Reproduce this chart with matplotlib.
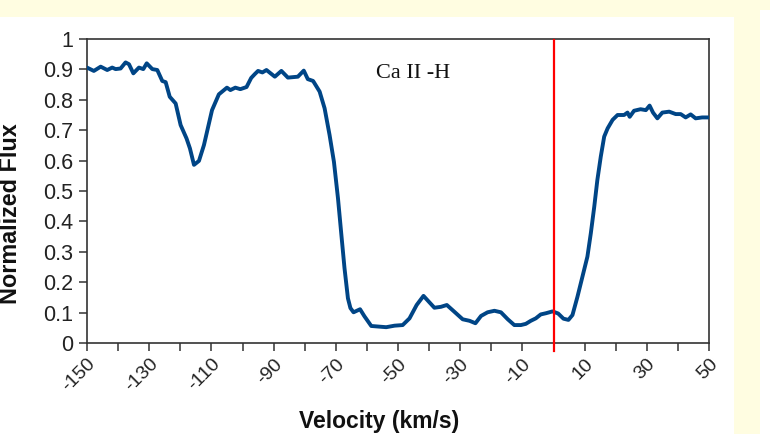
"""
Ca II H line profile: normalized flux against velocity, with rest-velocity marker.
"""
import matplotlib
matplotlib.use("Agg")
import matplotlib.pyplot as plt
from matplotlib.patches import Rectangle

# ── data ──────────────────────────────────────────────────────────────────────
velocity = [
    -150.0, -147.8, -145.6, -143.5, -141.9, -140.8, -139.2, -137.6, -136.5, -135.1,
    -133.3, -131.9, -130.8, -129.0, -127.4, -125.8, -124.7, -123.4, -121.5, -119.9,
    -118.0, -116.9, -115.6, -114.0, -112.4, -109.8, -107.6, -105.0, -103.9, -102.3,
    -100.7, -98.7, -97.2, -96.0, -95.0, -93.6, -92.3, -89.6, -87.5, -85.4,
    -82.2, -80.3, -79.0, -77.3, -75.2, -73.6, -72.0, -70.6, -69.3, -68.2,
    -67.2, -66.1, -65.3, -64.3, -62.2, -60.8, -58.6, -53.8, -51.1, -48.5,
    -46.3, -44.0, -41.8, -40.1, -38.3, -36.2, -34.3, -31.9, -29.2, -27.0,
    -25.1, -23.3, -21.2, -19.0, -16.9, -14.7, -12.6, -10.5, -8.9, -7.3,
    -5.7, -4.1, -2.4, -0.3, 1.5, 3.2, 4.8, 6.1, 7.7, 9.3,
    10.9, 12.0, 13.1, 14.1, 15.2, 16.3, 17.4, 19.0, 20.6, 22.7,
    23.8, 24.5, 25.9, 28.0, 29.7, 30.9, 32.0, 33.4, 35.0, 37.2,
    39.3, 40.9, 42.5, 44.1, 45.7, 47.8, 50.0,
]
flux = [
    0.906, 0.895, 0.909, 0.898, 0.906, 0.901, 0.903, 0.923, 0.917, 0.887,
    0.906, 0.901, 0.920, 0.901, 0.898, 0.862, 0.858, 0.810, 0.788, 0.717,
    0.673, 0.640, 0.586, 0.599, 0.651, 0.766, 0.818, 0.840, 0.832, 0.840,
    0.835, 0.842, 0.872, 0.885, 0.895, 0.890, 0.898, 0.876, 0.895, 0.873,
    0.876, 0.896, 0.868, 0.862, 0.827, 0.772, 0.684, 0.596, 0.476, 0.355,
    0.246, 0.147, 0.115, 0.101, 0.111, 0.088, 0.056, 0.052, 0.057, 0.059,
    0.081, 0.125, 0.155, 0.136, 0.116, 0.119, 0.125, 0.103, 0.078, 0.073,
    0.065, 0.089, 0.101, 0.106, 0.101, 0.078, 0.059, 0.059, 0.063, 0.073,
    0.081, 0.094, 0.098, 0.104, 0.097, 0.080, 0.076, 0.092, 0.152, 0.218,
    0.284, 0.361, 0.448, 0.536, 0.613, 0.679, 0.706, 0.734, 0.750, 0.750,
    0.758, 0.744, 0.764, 0.769, 0.766, 0.781, 0.758, 0.739, 0.758, 0.761,
    0.753, 0.753, 0.742, 0.752, 0.739, 0.742, 0.742,
]
rest_velocity = 0
line_label = "Ca II -H"

x_ticks = list(range(-150, 51, 10))
x_tick_labels = [str(v) if (v + 150) % 20 == 0 else "" for v in x_ticks]
y_ticks = [0, 0.1, 0.2, 0.3, 0.4, 0.5, 0.6, 0.7, 0.8, 0.9, 1]
y_tick_labels = ["0", "0.1", "0.2", "0.3", "0.4", "0.5", "0.6", "0.7", "0.8", "0.9", "1"]

LINE_COLOR = "#004586"
CREAM = "#FFFDE1"
AXIS_COLOR = "#333333"

plt.rcParams["font.family"] = ["Liberation Sans", "DejaVu Sans"]

# ── figure + page background ─────────────────────────────────────────────────
W, H = 770, 434
fig = plt.figure(figsize=(W / 100, H / 100), dpi=100, facecolor="white")
for (x0, y0, x1, y1) in [(0, 0, 760, 17), (734, 0, 760, H), (760, 0, W, 10)]:
    fig.patches.append(Rectangle((x0 / W, 1 - y1 / H), (x1 - x0) / W, (y1 - y0) / H,
                                 transform=fig.transFigure, facecolor=CREAM,
                                 edgecolor="none", zorder=0))

ax = fig.add_axes([87 / W, 1 - 343 / H, 622 / W, 304 / H])

# ── plot ─────────────────────────────────────────────────────────────────────
ax.plot(velocity, flux, color=LINE_COLOR, linewidth=2.8, solid_joinstyle="round",
        solid_capstyle="round", zorder=3)
ax.axvline(rest_velocity, ymin=-0.025, ymax=0.996, color="#FF0000", linewidth=1.6,
           clip_on=False, zorder=4)
ax.text(-57, 0.885, line_label, family=["Liberation Serif", "DejaVu Serif"],
        fontsize=16, color="#111111", va="center", ha="left")

ax.set_xlim(-150, 50)
ax.set_ylim(0, 1)
ax.set_xticks(x_ticks)
ax.set_xticklabels(x_tick_labels, rotation=45, ha="right", va="top",
                   rotation_mode="anchor", fontsize=14, color="#222222")
ax.set_yticks(y_ticks)
ax.set_yticklabels(y_tick_labels, fontsize=15.5, color="#222222")
ax.tick_params(axis="both", direction="out", length=6, width=1.1, color=AXIS_COLOR)
ax.tick_params(axis="x", pad=3)
ax.tick_params(axis="y", pad=4)
for sp in ax.spines.values():
    sp.set_color(AXIS_COLOR)
    sp.set_linewidth(1.2)

ax.set_xlabel("Velocity (km/s)", fontsize=16.5, fontweight="bold", color="#111111")
ax.xaxis.set_label_coords(0.47, -0.222)
ax.set_ylabel("Normalized Flux", fontsize=16.8, fontweight="bold", color="#111111")
ax.yaxis.set_label_coords(-0.104, 0.424)

fig.savefig("out.png", dpi=100, facecolor=fig.get_facecolor())
